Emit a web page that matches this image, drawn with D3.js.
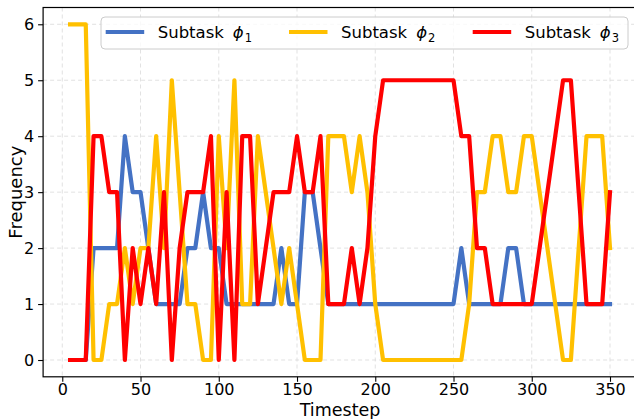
<!DOCTYPE html>
<html>
<head>
<meta charset="utf-8">
<script src="https://cdn.jsdelivr.net/npm/d3@7"></script>
<style>
  html, body { margin: 0; padding: 0; background: #fff; }
  svg { display: block; font-family: "DejaVu Sans", sans-serif; }
</style>
</head>
<body>
<script>
// timesteps (x) and subtask frequencies
const timesteps = [5, 10, 15, 20, 25, 30, 35, 40, 45, 50, 55, 60, 65, 70, 75, 80, 85, 90, 95, 100,
    105, 110, 115, 120, 125, 130, 135, 140, 145, 150, 155, 160, 165, 170, 175, 180, 185, 190, 195, 200,
    205, 210, 215, 220, 225, 230, 235, 240, 245, 250, 255,
    260, 265, 270, 275, 280, 285, 290, 295, 300, 305, 310, 315, 320, 325, 330, 335, 340, 345, 350];

const phi1 = [0, 0, 0, 2, 2, 2, 2, 4, 3, 3, 2, 1, 1, 1, 1, 2, 2, 3, 2, 2,
    1, 1, 1, 1, 1, 1, 1, 2, 1, 1, 3, 3, 2, 1, 1, 1, 1, 1, 1, 1,
    1, 1, 1, 1, 1, 1, 1, 1, 1, 1, 2,
    1, 1, 1, 1, 1, 2, 2, 1, 1, 1, 1, 1, 1, 1, 1, 1, 1, 1, 1];

const phi2 = [6, 6, 6, 0, 0, 1, 1, 2, 1, 2, 2, 4, 2, 5, 3, 1, 1, 0, 0, 4,
    2, 5, 1, 1, 4, 3, 2, 1, 2, 1, 0, 0, 0, 4, 4, 4, 3, 4, 3, 1,
    0, 0, 0, 0, 0, 0, 0, 0, 0, 0, 0,
    1, 3, 3, 4, 4, 3, 3, 4, 4, 3, 2, 1, 0, 0, 2, 4, 4, 4, 2];

const phi3 = [0, 0, 0, 4, 4, 3, 3, 0, 2, 1, 2, 1, 3, 0, 2, 3, 3, 3, 4, 0,
    3, 0, 4, 4, 1, 2, 3, 3, 3, 4, 3, 3, 4, 1, 1, 1, 2, 1, 2, 4,
    5, 5, 5, 5, 5, 5, 5, 5, 5, 5, 4,
    4, 2, 2, 1, 1, 1, 1, 1, 1, 2, 3, 4, 5, 5, 3, 1, 1, 1, 3];

const seriesNames = ["1", "2", "3"];
const seriesColors = ["#4472C4", "#FFC000", "#FF0000"];
const xTicks = [0, 50, 100, 150, 200, 250, 300, 350];
const yTicks = [0, 1, 2, 3, 4, 5, 6];

const width = 634;
const height = 419;

const svg = d3.select("body")
    .append("svg")
    .attr("width", width)
    .attr("height", height);

// plot box (right spine falls just outside the picture)
const plotLeft = 43.1, plotRight = 637, plotTop = 7.5, plotBottom = 376.8;

const x = d3.scaleLinear().domain([-12.25, 367.25]).range([plotLeft, plotRight]);
const y = d3.scaleLinear().domain([-0.3, 6.3]).range([plotBottom, plotTop]);

// grid
const grid = svg.append("g").attr("class", "grid");
grid.selectAll("line.gx")
    .data(xTicks)
    .enter()
    .append("line")
    .attr("x1", d => x(d)).attr("x2", d => x(d))
    .attr("y1", plotTop).attr("y2", plotBottom)
    .style("stroke", "#d9d9d9")
    .style("stroke-width", 0.8)
    .style("stroke-dasharray", "4,3");
grid.selectAll("line.gy")
    .data(yTicks)
    .enter()
    .append("line")
    .attr("x1", plotLeft).attr("x2", plotRight)
    .attr("y1", d => y(d)).attr("y2", d => y(d))
    .style("stroke", "#d9d9d9")
    .style("stroke-width", 0.8)
    .style("stroke-dasharray", "4,3");

// lines
const series = [phi1, phi2, phi3];
const line = d3.line()
    .x((d, i) => x(timesteps[i]))
    .y(d => y(d));

svg.append("g")
    .attr("class", "series")
    .selectAll("path")
    .data(series)
    .enter()
    .append("path")
    .attr("d", d => line(d))
    .style("fill", "none")
    .style("stroke", (d, i) => seriesColors[i])
    .style("stroke-width", 4.2)
    .style("stroke-linejoin", "round")
    .style("stroke-linecap", "square");

// frame
svg.append("rect")
    .attr("x", plotLeft).attr("y", plotTop)
    .attr("width", plotRight - plotLeft).attr("height", plotBottom - plotTop)
    .style("fill", "none")
    .style("stroke", "#000")
    .style("stroke-width", 1.2);

// axes
const xAxis = svg.append("g")
    .attr("transform", `translate(0,${plotBottom})`)
    .call(d3.axisBottom(x).tickValues(xTicks).tickFormat(d3.format("d")).tickSize(5).tickPadding(2));
const yAxis = svg.append("g")
    .attr("transform", `translate(${plotLeft},0)`)
    .call(d3.axisLeft(y).tickValues(yTicks).tickFormat(d3.format("d")).tickSize(5).tickPadding(4));

[xAxis, yAxis].forEach(a => {
    a.select(".domain").remove();
    a.selectAll(".tick line").style("stroke", "#000").style("stroke-width", 1.1);
    a.selectAll(".tick text")
        .style("font-family", "DejaVu Sans")
        .style("font-size", "16px")
        .style("fill", "#000");
});

// axis labels
svg.append("text")
    .attr("x", (plotLeft + plotRight) / 2)
    .attr("y", 415.5)
    .attr("text-anchor", "middle")
    .style("font-size", "17.5px")
    .text("Timestep");

svg.append("text")
    .attr("transform", `translate(22,${(plotTop + plotBottom) / 2}) rotate(-90)`)
    .attr("text-anchor", "middle")
    .style("font-size", "18px")
    .text("Frequency");

// legend
const legend = svg.append("g").attr("class", "legend");
legend.append("rect")
    .attr("x", 101).attr("y", 17)
    .attr("width", 527).attr("height", 32)
    .attr("rx", 4)
    .style("fill", "#fff")
    .style("fill-opacity", 0.8)
    .style("stroke", "#cccccc")
    .style("stroke-width", 1);

const legendX = [105.7, 289, 472.7];
const item = legend.selectAll("g.item")
    .data(seriesNames)
    .enter()
    .append("g")
    .attr("transform", (d, i) => `translate(${legendX[i]},32)`);

item.append("line")
    .attr("x1", 0).attr("x2", 38.5)
    .attr("y1", 0).attr("y2", 0)
    .style("stroke", (d, i) => seriesColors[i])
    .style("stroke-width", 4.2);

const label = item.append("text")
    .attr("x", 52)
    .attr("y", 6)
    .style("font-size", "16.5px");
label.append("tspan").text("Subtask");
label.append("tspan")
    .attr("dx", 9)
    .style("font-style", "italic")
    .text("ϕ");
label.append("tspan")
    .attr("dx", 1)
    .attr("dy", 4)
    .style("font-size", "11.5px")
    .text(d => d);
</script>
</body>
</html>
